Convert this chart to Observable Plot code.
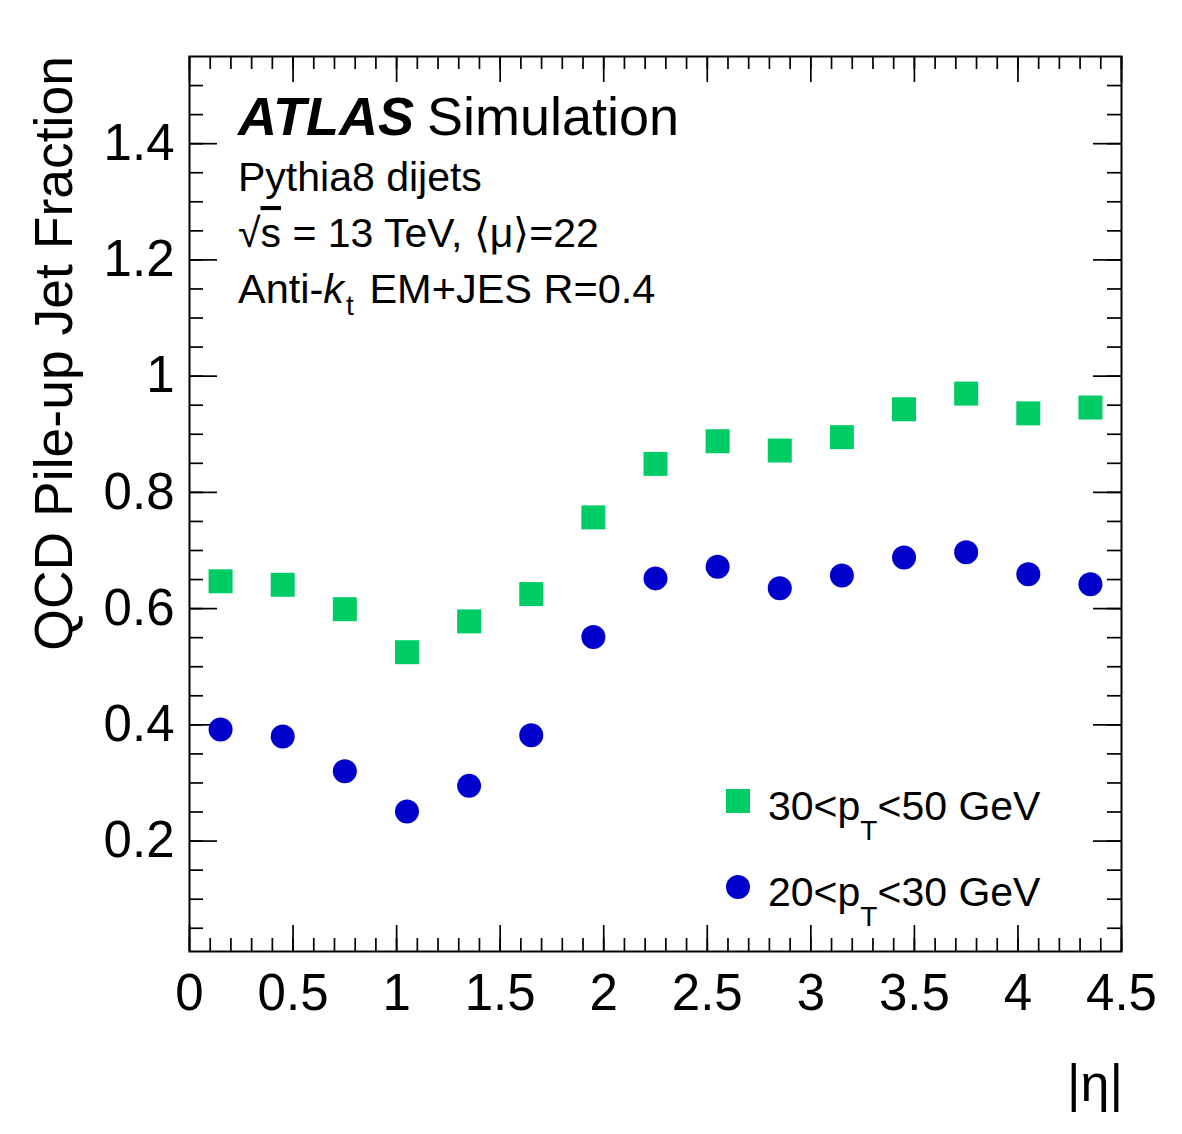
<!DOCTYPE html>
<html>
<head>
<meta charset="utf-8">
<script src="https://cdn.jsdelivr.net/npm/d3@7"></script>
<script src="https://cdn.jsdelivr.net/npm/@observablehq/plot@0.6"></script>
<style>
  html, body { margin: 0; padding: 0; background: #fff; }
  #chart { position: relative; width: 1182px; height: 1134px; font-family: "Liberation Sans", Arial, Helvetica, sans-serif; }
  #chart svg { position: absolute; left: 0; top: 0; }
</style>
</head>
<body>
<div id="chart"></div>
<script>
// |eta| bin centres (bins of width 0.3 from 0 to 4.5)
const etaCenters = [0.15, 0.45, 0.75, 1.05, 1.35, 1.65, 1.95, 2.25, 2.55, 2.85, 3.15, 3.45, 3.75, 4.05, 4.35];

// QCD pile-up jet fraction per |eta| bin
const fracPt30to50 = [0.647, 0.641, 0.599, 0.525, 0.578, 0.625, 0.757, 0.849, 0.888, 0.872, 0.895, 0.943, 0.970, 0.936, 0.946];
const fracPt20to30 = [0.392, 0.380, 0.320, 0.251, 0.295, 0.382, 0.551, 0.652, 0.672, 0.635, 0.657, 0.688, 0.697, 0.659, 0.642];

// axis ticks
const xMajorTicks = [0, 0.5, 1, 1.5, 2, 2.5, 3, 3.5, 4, 4.5];
const yMajorTicks = [0.2, 0.4, 0.6, 0.8, 1, 1.2, 1.4];
const xDomain = [0, 4.5];
const yDomain = [0.01, 1.55];

// series styling
const seriesNames = ["30<pT<50 GeV", "20<pT<30 GeV"];
const seriesColors = ["#00cc66", "#0000cc"];
const seriesSymbols = ["square", "circle"];

const xMinorTicks = d3.range(0, 4.5001, 0.1).map(v => +v.toFixed(2));
const yMinorTicks = d3.range(0.05, 1.5001, 0.05).map(v => +v.toFixed(2));

const W = 1182, H = 1134;
const margin = {top: 56, right: 61, bottom: 183, left: 189};
const innerW = W - margin.left - margin.right;
const innerH = H - margin.top - margin.bottom;

const points = [];
etaCenters.forEach((eta, i) => {
  points.push({eta, frac: fracPt30to50[i], series: seriesNames[0]});
  points.push({eta, frac: fracPt20to30[i], series: seriesNames[1]});
});

const ink = {stroke: "black", strokeWidth: 1.7};
const fmt = d3.format("~g");
// square side equals the circle diameter (24 px)
const rCircle = 12;
const rSquare = 24 / Math.sqrt(Math.PI);

const chart = Plot.plot({
  width: W,
  height: H,
  marginTop: margin.top,
  marginRight: margin.right,
  marginBottom: margin.bottom,
  marginLeft: margin.left,
  style: {fontFamily: "Liberation Sans, Arial, sans-serif", color: "black", background: "white", overflow: "visible"},
  x: {domain: xDomain},
  y: {domain: yDomain},
  marks: [
    // inward ticks on all four sides
    Plot.tickX(xMinorTicks, {x: d => d, insetTop: innerH - 13, ...ink}),
    Plot.tickX(xMinorTicks, {x: d => d, insetBottom: innerH - 13, ...ink}),
    Plot.tickX(xMajorTicks, {x: d => d, insetTop: innerH - 26, ...ink}),
    Plot.tickX(xMajorTicks, {x: d => d, insetBottom: innerH - 26, ...ink}),
    Plot.tickY(yMinorTicks, {y: d => d, insetRight: innerW - 14, ...ink}),
    Plot.tickY(yMinorTicks, {y: d => d, insetLeft: innerW - 14, ...ink}),
    Plot.tickY(yMajorTicks, {y: d => d, insetRight: innerW - 28, ...ink}),
    Plot.tickY(yMajorTicks, {y: d => d, insetLeft: innerW - 28, ...ink}),
    Plot.axisX({ticks: xMajorTicks, tickSize: 0, tickPadding: 22, fontSize: 51, tickFormat: fmt, label: null}),
    Plot.axisY({ticks: yMajorTicks, tickSize: 0, tickPadding: 15, fontSize: 51, tickFormat: fmt, label: null}),
    Plot.frame({stroke: "black", strokeWidth: 2}),
    Plot.dot(points.filter(d => d.series === seriesNames[1]), {
      x: "eta", y: "frac", r: rCircle, symbol: seriesSymbols[1], fill: seriesColors[1], stroke: "none"
    }),
    Plot.dot(points.filter(d => d.series === seriesNames[0]), {
      x: "eta", y: "frac", r: rSquare, symbol: seriesSymbols[0], fill: seriesColors[0], stroke: "none"
    })
  ]
});

const root = document.getElementById("chart");
root.appendChild(chart);

// annotation layer: titles, labels and legend
const svg = d3.select(root).append("svg")
  .attr("width", W).attr("height", H)
  .style("pointer-events", "none")
  .style("font-family", "Liberation Sans, Arial, sans-serif")
  .attr("fill", "black");

// y axis title, right-aligned to the top of the frame
svg.append("text")
  .attr("transform", `translate(72,${margin.top}) rotate(-90)`)
  .attr("text-anchor", "end")
  .attr("font-size", 53.5)
  .text("QCD Pile-up Jet Fraction");

// x axis title
svg.append("text")
  .attr("x", W - margin.right + 2)
  .attr("y", 1101)
  .attr("text-anchor", "end")
  .attr("font-size", 52)
  .text("|η|");

// ATLAS label block
const tx = margin.left + 49;
const atlas = svg.append("text").attr("x", tx).attr("y", 135).attr("font-size", 54);
atlas.append("tspan").attr("font-weight", "bold").attr("font-style", "italic").text("ATLAS");
atlas.append("tspan").attr("dx", 13).text("Simulation");

svg.append("text").attr("x", tx).attr("y", 191).attr("font-size", 41).text("Pythia8 dijets");

const energy = svg.append("text").attr("x", tx).attr("y", 247).attr("font-size", 41);
energy.append("tspan").attr("font-weight", "200").text("√");
energy.append("tspan").style("text-decoration", "overline").text("s");
energy.append("tspan").text(" = 13 TeV, ⟨μ⟩=22");

const algo = svg.append("text").attr("x", tx).attr("y", 303).attr("font-size", 41.5);
algo.append("tspan").text("Anti-");
algo.append("tspan").attr("font-style", "italic").text("k");
algo.append("tspan").attr("font-size", 28).attr("dy", 12).attr("dx", 2).text("t");
algo.append("tspan").attr("dy", -12).attr("dx", 4).text(" EM+JES R=0.4");

// legend
const legendRows = [
  {name: seriesNames[0], color: seriesColors[0], symbol: d3.symbolSquare, cy: 801},
  {name: seriesNames[1], color: seriesColors[1], symbol: d3.symbolCircle, cy: 887}
];
legendRows.forEach(row => {
  svg.append("path")
    .attr("transform", `translate(738,${row.cy})`)
    .attr("d", d3.symbol(row.symbol, row.symbol === d3.symbolSquare ? 24 * 24 : Math.PI * rCircle * rCircle)())
    .attr("fill", row.color);
  const [lo, hi] = row.name.split("<pT<");
  const t = svg.append("text").attr("x", 768).attr("y", row.cy + 19).attr("font-size", 41);
  t.append("tspan").text(lo + "<p");
  t.append("tspan").attr("font-size", 28).attr("dy", 20).text("T");
  t.append("tspan").attr("dy", -20).text("<" + hi);
});
</script>
</body>
</html>
